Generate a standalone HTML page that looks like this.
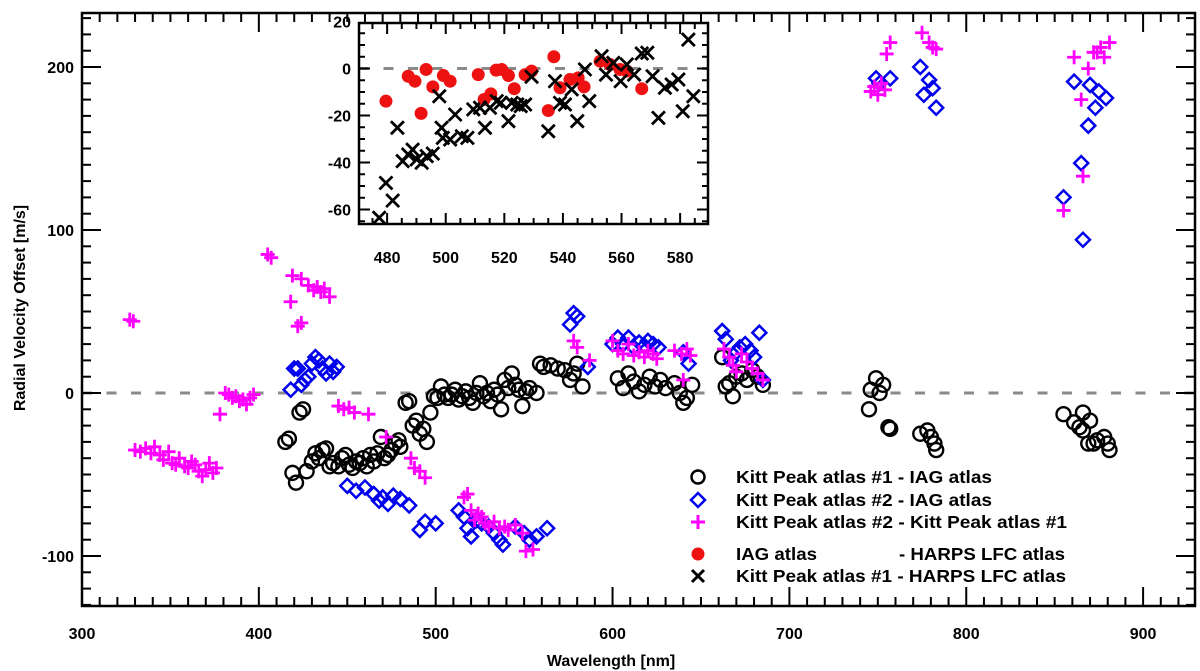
<!DOCTYPE html>
<html><head><meta charset="utf-8"><title>Radial velocity offsets</title>
<style>
html,body{margin:0;padding:0;background:#fff;}
svg{display:block;font-family:"Liberation Sans",Arial,sans-serif;font-weight:bold;}
</style></head>
<body>
<svg id="chart" width="1200" height="671" viewBox="0 0 1200 671" xmlns="http://www.w3.org/2000/svg">
<rect x="0" y="0" width="1200" height="671" fill="#fff"/>
<g id="main"></g>
<g id="inset"></g>
<g id="legend">
  <circle cx="698" cy="477" r="6.5" fill="none" stroke="#000" stroke-width="2.5"/>
  <text x="736" y="483" font-size="17.5" textLength="256" lengthAdjust="spacingAndGlyphs">Kitt Peak atlas #1 - IAG atlas</text>
  <path d="M698 493 L705 500 L698 507 L691 500 Z" fill="none" stroke="#0000ee" stroke-width="2.5"/>
  <text x="736" y="506" font-size="17.5" textLength="256" lengthAdjust="spacingAndGlyphs">Kitt Peak atlas #2 - IAG atlas</text>
  <path d="M691 522 H705 M698 515 V529" stroke="#ff00ff" stroke-width="3"/>
  <text x="736" y="528" font-size="17.5" textLength="331" lengthAdjust="spacingAndGlyphs">Kitt Peak atlas #2 - Kitt Peak atlas #1</text>
  <circle cx="698" cy="554" r="6.5" fill="#ee1111"/>
  <text x="736" y="560" font-size="17.5" textLength="81" lengthAdjust="spacingAndGlyphs">IAG atlas</text>
  <text x="899" y="560" font-size="17.5" textLength="166" lengthAdjust="spacingAndGlyphs">- HARPS LFC atlas</text>
  <path d="M692 570 L704 582 M704 570 L692 582" stroke="#000" stroke-width="3"/>
  <text x="736" y="582" font-size="17.5" textLength="330" lengthAdjust="spacingAndGlyphs">Kitt Peak atlas #1 - HARPS LFC atlas</text>
</g>
</svg>
<script>
// ---- main chart data ----
const kp1IagPoints = [[415,-30],[417,-28],[419,-49],[421,-55],[423,-12],[425,-10],[427,-48],[430,-42],[432,-37],[434,-40],[436,-35],[438,-34],[440,-45],[442,-43],[445,-45],[447,-40],[449,-38],[451,-44],[453,-46],[455,-42],[457,-43],[459,-40],[461,-45],[463,-38],[465,-42],[467,-37],[469,-27],[471,-40],[473,-38],[475,-35],[477,-31],[479,-29],[480,-33],[483,-6],[485,-5],[487,-20],[489,-17],[491,-25],[493,-22],[495,-30],[497,-12],[499,-2],[501,-3],[503,4],[505,-1],[507,-3],[509,-1],[511,2],[513,-4],[515,-2],[517,1],[519,-3],[521,-6],[523,0],[525,6],[527,-2],[529,0],[531,-5],[533,2],[535,-1],[537,-10],[539,8],[541,3],[543,12],[545,5],[547,2],[549,-8],[551,1],[553,3],[557,0],[559,18],[561,16],[565,17],[569,15],[573,14],[576,8],[578,12],[580,18],[583,4],[603,9],[606,3],[609,12],[612,7],[615,1],[618,5],[621,10],[624,4],[627,8],[630,3],[635,6],[638,0],[640,-6],[642,-3],[645,5],[662,22],[664,4],[666,6],[668,-2],[670,10],[673,12],[676,8],[679,14],[682,10],[685,5],[749,9],[753,5],[746,2],[751,0],[745,-10],[756,-21],[757,-22],[774,-25],[778,-23],[780,-27],[782,-31],[783,-35],[855,-13],[866,-12],[870,-17],[861,-18],[864,-21],[866,-23],[869,-31],[874,-29],[878,-27],[880,-31],[872,-31],[881,-35]];
const kp2IagPoints = [[418,2],[420,15],[422,15],[424,5],[426,8],[428,10],[430,18],[432,22],[434,20],[436,15],[438,12],[440,18],[442,13],[444,16],[450,-57],[455,-60],[460,-58],[465,-62],[468,-66],[470,-64],[473,-68],[476,-63],[480,-65],[485,-69],[491,-84],[494,-79],[500,-80],[513,-72],[516,-76],[518,-83],[520,-88],[523,-78],[526,-80],[530,-82],[533,-86],[536,-90],[538,-93],[545,-82],[550,-86],[553,-90],[557,-88],[563,-83],[576,42],[578,49],[580,47],[586,16],[600,30],[603,34],[606,30],[609,34],[612,28],[615,31],[618,29],[620,32],[623,30],[626,28],[640,25],[643,18],[662,38],[664,33],[667,20],[670,25],[672,28],[675,30],[678,26],[680,22],[683,37],[685,8],[749,193],[757,193],[774,200],[779,192],[781,187],[776,183],[783,175],[751,190],[861,191],[870,189],[875,185],[879,181],[873,175],[869,164],[865,141],[855,120],[866,94]];
const kp2Kp1Points = [[327,45],[329,44],[405,85],[407,83],[419,72],[418,56],[424,70],[422,41],[424,43],[428,66],[431,63],[433,65],[435,62],[437,64],[440,59],[330,-35],[333,-36],[336,-34],[339,-37],[341,-33],[344,-38],[346,-41],[349,-36],[351,-43],[353,-44],[355,-40],[358,-45],[360,-46],[362,-42],[364,-44],[366,-48],[368,-51],[370,-47],[372,-43],[374,-49],[376,-46],[378,-13],[381,0],[383,-1],[385,-3],[387,-2],[389,-5],[391,-4],[393,-7],[395,-3],[397,-1],[445,-8],[448,-10],[451,-9],[454,-12],[462,-13],[472,-27],[486,-40],[488,-46],[491,-48],[494,-52],[516,-64],[518,-62],[520,-72],[522,-78],[524,-74],[526,-76],[528,-80],[530,-82],[533,-79],[536,-83],[539,-82],[541,-84],[545,-81],[549,-86],[551,-97],[555,-96],[578,32],[580,28],[587,20],[600,32],[603,26],[606,24],[609,30],[612,23],[615,25],[618,22],[620,26],[623,24],[625,21],[635,26],[639,24],[642,27],[644,23],[640,8],[663,27],[666,22],[668,17],[670,13],[673,24],[676,19],[679,15],[682,12],[685,8],[746,185],[748,188],[750,183],[752,190],[754,186],[757,215],[755,208],[775,221],[779,215],[781,212],[783,211],[855,112],[861,206],[865,180],[866,133],[869,199],[872,209],[874,209],[878,206],[881,215],[876,212]];
const mainXTicks = [300,400,500,600,700,800,900];
const mainYTicks = [-100,0,100,200];

// ---- inset data ----
const iagHarpsPoints = [[479.6,-13.9],[487.2,-3.3],[489.5,-5.4],[493.3,-0.4],[491.6,-19.1],[495.6,-7.8],[499.2,-3.0],[501.5,-5.4],[511.1,-2.6],[513.1,-13.2],[515.4,-10.8],[517.2,-0.7],[519.1,-0.4],[521.4,-3.0],[523.4,-8.6],[527.1,-2.6],[529.3,-1.1],[535.0,-17.9],[536.9,5.0],[539.0,-8.2],[542.4,-4.7],[545.2,-4.0],[547.2,-7.8],[552.7,3.1],[556.1,1.7],[559.5,-0.4],[561.8,-1.1],[566.9,-8.6]];
const kp1HarpsPoints = [[477.3,-63.5],[479.6,-48.7],[481.9,-56.2],[483.5,-25.2],[485.3,-39.4],[487.2,-36.6],[488.7,-34.5],[490.1,-38.7],[491.8,-40.1],[493.5,-37.3],[495.6,-36.2],[497.8,-11.8],[498.6,-25.2],[499.0,-29.5],[501.5,-30.2],[503.2,-19.6],[505.5,-28.8],[507.4,-29.5],[509.4,-17.4],[511.7,-16.7],[513.4,-25.2],[515.1,-16.7],[517.4,-13.9],[518.8,-14.6],[521.4,-22.4],[522.5,-14.6],[524.4,-15.3],[525.6,-16.0],[527.1,-15.3],[529.3,-3.5],[535.0,-26.7],[537.3,-5.4],[539.0,-14.6],[540.7,-15.3],[543.0,-8.9],[544.9,-22.4],[547.5,-0.4],[549.0,-13.9],[553.2,5.2],[554.7,-2.6],[557.2,2.4],[559.7,-5.4],[561.8,1.7],[564.3,-2.6],[566.9,6.4],[568.8,6.7],[570.6,-3.3],[572.6,-21.0],[574.8,-8.2],[577.1,-6.8],[579.4,-4.7],[580.9,-18.2],[582.8,12.3],[584.5,-11.8]];
const insetXTicks = [480,500,520,540,560,580];
const insetYTicks = [-60,-40,-20,0,20];

const NS = "http://www.w3.org/2000/svg";
function mk(parent, tag, attrs){const e=document.createElementNS(NS,tag);for(const k in attrs)e.setAttribute(k,attrs[k]);parent.appendChild(e);return e;}

const MX0=82, MX1=1195, MY0=13, MY1=606;
const xMain = w => 82 + (w-300)*1.7685;
const yMain = v => 393 - v*1.63;
const IX0=359, IX1=708, IY0=23, IY1=224;
const xIn = w => 359 + (w-470.4)*2.93;
const yIn = v => 68.5 - v*2.35;

function circle(g,x,y,r,stroke,fill,name){const e=mk(g,'circle',{cx:x,cy:y,r:r,fill:fill||'none',stroke:stroke||'none','stroke-width':2.4});

}
function diamond(g,x,y,name){const s=7;const e=mk(g,'path',{d:`M${x} ${y-s} L${x+s} ${y} L${x} ${y+s} L${x-s} ${y} Z`,fill:'none',stroke:'#0000ee','stroke-width':2.5});

}
function plus(g,x,y,name){const s=7;const e=mk(g,'path',{d:`M${x-s} ${y} H${x+s} M${x} ${y-s} V${y+s}`,stroke:'#ff00ff','stroke-width':2.8});

}
function cross(g,x,y,name){const s=6.5;const e=mk(g,'path',{d:`M${x-s} ${y-s} L${x+s} ${y+s} M${x+s} ${y-s} L${x-s} ${y+s}`,stroke:'#000','stroke-width':2.8});

}

function axes(g, x0,x1,y0,y1, xs, ys, xt, yt, xminor, yminor, xr, yr, big, small, fs, xlabY, ylabX, prefix){
  const zl=mk(g,'line',{x1:x0,x2:x1,y1:ys(0),y2:ys(0),stroke:'#8a8a8a','stroke-width':3,'stroke-dasharray':'10 14.5'});
  
  
  for(let w=xr[0]; w<=xr[1]+1e-6; w+=xminor){
    const X=xs(w); if(X<x0||X>x1) continue;
    const isMaj = xt.some(t=>Math.abs(t-w)<1e-6);
    const L=isMaj?big:small;
    mk(g,'line',{x1:X,x2:X,y1:y1,y2:y1-L,stroke:'#000','stroke-width':2});
    mk(g,'line',{x1:X,x2:X,y1:y0,y2:y0+L,stroke:'#000','stroke-width':2});
  }
  for(let v=yr[0]; v<=yr[1]+1e-6; v+=yminor){
    const Y=ys(v); if(Y<y0||Y>y1) continue;
    const isMaj = yt.some(t=>Math.abs(t-v)<1e-6);
    const L=isMaj?big:small;
    mk(g,'line',{x1:x0,x2:x0+L,y1:Y,y2:Y,stroke:'#000','stroke-width':2});
    mk(g,'line',{x1:x1,x2:x1-L,y1:Y,y2:Y,stroke:'#000','stroke-width':2});
  }
  xt.forEach(t=>{const e=mk(g,'text',{x:xs(t),y:xlabY,'text-anchor':'middle','font-size':fs});e.textContent=t;
    
    });
  yt.forEach(t=>{const e=mk(g,'text',{x:ylabX,y:ys(t)+fs*0.36,'text-anchor':'end','font-size':fs});e.textContent=t;
    
    });
}

const gm=document.getElementById('main');

axes(gm,MX0,MX1,MY0,MY1,xMain,yMain,mainXTicks,mainYTicks,10,10,[300,930],[-130,230],19,9,16,639,74,'main');
const mpts=mk(gm,'g',{});


kp1IagPoints.forEach(p=>circle(mpts,xMain(p[0]),yMain(p[1]),7,'#000',null,'kp1-iag-point'));
kp2IagPoints.forEach(p=>diamond(mpts,xMain(p[0]),yMain(p[1]),'kp2-iag-point'));
kp2Kp1Points.forEach(p=>plus(mpts,xMain(p[0]),yMain(p[1]),'kp2-kp1-point'));
const mf=mk(gm,'rect',{x:MX0,y:MY0,width:MX1-MX0,height:MY1-MY0,fill:'none',stroke:'#000','stroke-width':2.5});


const xt=mk(gm,'text',{x:611,y:666,'text-anchor':'middle','font-size':16});xt.textContent='Wavelength [nm]';


const yt=mk(gm,'text',{x:0,y:0,'text-anchor':'middle','font-size':16,transform:'translate(25,308) rotate(-90)'});yt.textContent='Radial Velocity Offset [m/s]';



const gi=document.getElementById('inset');

const ibg=mk(gi,'rect',{x:IX0,y:IY0,width:IX1-IX0,height:IY1-IY0,fill:'#fff'});


mk(gi,'rect',{x:IX0-45,y:IY0,width:44,height:IY1-IY0+45,fill:'#fff'});
mk(gi,'rect',{x:IX0-45,y:IY1,width:IX1-IX0+60,height:45,fill:'#fff'});
axes(gi,IX0,IX1,IY0,IY1,xIn,yIn,insetXTicks,insetYTicks,5,5,[470,590],[-65,20],11,6,16,263,351,'inset');
const ipts=mk(gi,'g',{});


iagHarpsPoints.forEach(p=>circle(ipts,xIn(p[0]),yIn(p[1]),6.5,null,'#ee1111','iag-harps-point'));
kp1HarpsPoints.forEach(p=>cross(ipts,xIn(p[0]),yIn(p[1]),'kp1-harps-point'));
const inf=mk(gi,'rect',{x:IX0,y:IY0,width:IX1-IX0,height:IY1-IY0,fill:'none',stroke:'#000','stroke-width':2.5});


</script>
</body></html>
